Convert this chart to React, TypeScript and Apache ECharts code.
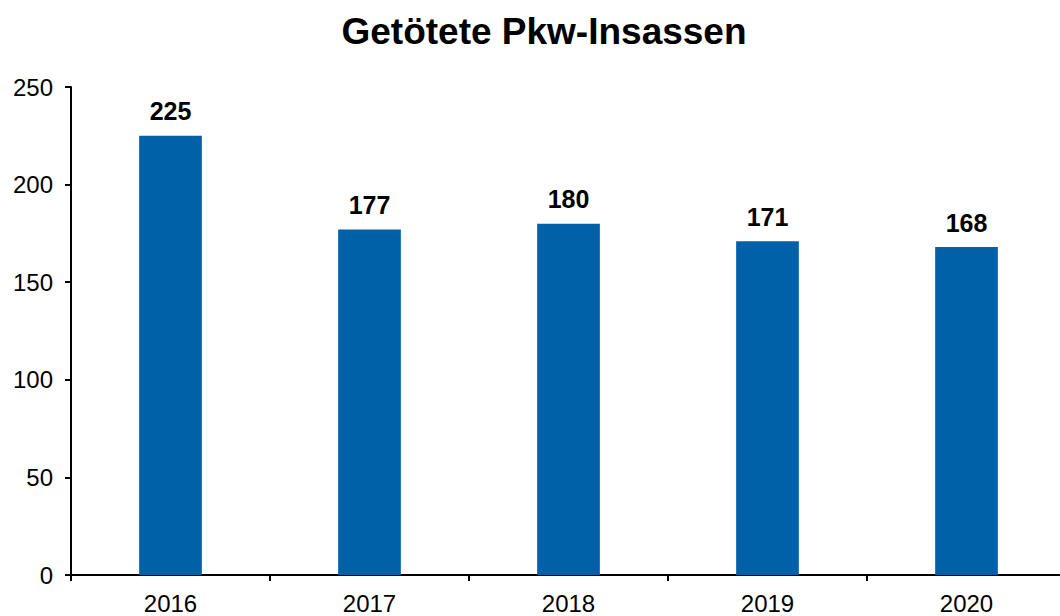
import React, { useEffect, useRef } from "react";
import * as echarts from "echarts";

const categories = ["2016", "2017", "2018", "2019", "2020"];
const values = [225, 177, 180, 171, 168];
const yTicks = { min: 0, max: 250, interval: 50 };
const titleText = "Getötete Pkw-Insassen";

export default function App() {
  const ref = useRef<HTMLDivElement>(null);
  useEffect(() => {
    document.body.style.margin = "0";
    const chart = echarts.init(ref.current!, null, { renderer: "svg" });
    chart.setOption({
      animation: false,
      backgroundColor: "#ffffff",
      textStyle: { fontFamily: "Liberation Sans, Arial, sans-serif" },
      title: {
        text: titleText,
        left: 539,
        textAlign: "center",
        top: 8,
        textStyle: { fontSize: 37, fontWeight: "bold", color: "#000", fontFamily: "Liberation Sans, Arial, sans-serif" },
      },
      grid: { left: 71, top: 87, bottom: 41, width: 995, outerBoundsMode: "none", containLabel: false },
      xAxis: {
        type: "category",
        data: categories,
        axisLine: { lineStyle: { color: "#000", width: 2 } },
        axisTick: { show: true, length: 6, lineStyle: { color: "#000", width: 2 } },
        axisLabel: { color: "#000", fontSize: 24, margin: 16 },
      },
      yAxis: {
        type: "value",
        min: yTicks.min,
        max: yTicks.max,
        interval: yTicks.interval,
        axisLine: { show: true, lineStyle: { color: "#000", width: 2 } },
        axisTick: { show: true, length: 6, lineStyle: { color: "#000", width: 2 } },
        axisLabel: { color: "#000", fontSize: 24, margin: 18 },
        splitLine: { show: false },
      },
      series: [
        {
          type: "bar",
          data: values,
          barWidth: "31.5%",
          itemStyle: { color: "#0060a8" },
          label: {
            show: true,
            position: "top",
            distance: 12,
            color: "#000",
            fontSize: 25,
            fontWeight: "bold",
          },
        },
      ],
    });
    return () => chart.dispose();
  }, []);
  return <div ref={ref} style={{ width: 1060, height: 616 }} />;
}
